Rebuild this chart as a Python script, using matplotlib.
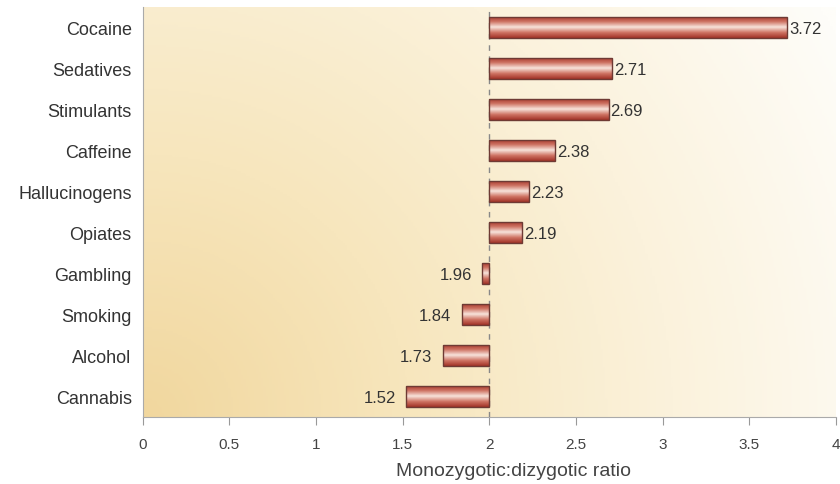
import numpy as np
import matplotlib
matplotlib.use("Agg")
import matplotlib.pyplot as plt
from matplotlib.colors import LinearSegmentedColormap

categories = ['Cocaine', 'Sedatives', 'Stimulants', 'Caffeine', 'Hallucinogens',
              'Opiates', 'Gambling', 'Smoking', 'Alcohol', 'Cannabis']
ratios = [3.72, 2.71, 2.69, 2.38, 2.23, 2.19, 1.96, 1.84, 1.73, 1.52]
baseline = 2.0
xticks = [0, 0.5, 1, 1.5, 2, 2.5, 3, 3.5, 4]
xticklabels = ['0', '0.5', '1', '1.5', '2', '2.5', '3', '3.5', '4']

plt.rcParams['font.family'] = ['Liberation Sans', 'DejaVu Sans']

fig = plt.figure(figsize=(8.4, 4.85), dpi=100)
ax = fig.add_axes([0.170, 0.138, 0.825, 0.846])

n = len(categories)
ypos = np.arange(n)[::-1]
ax.set_xlim(0, 4)
ax.set_ylim(-0.5, n - 0.5)

# background: radial gradient, tan at lower-left fading to white at upper-right
gx, gy = np.meshgrid(np.linspace(0, 1, 300), np.linspace(0, 1, 200))
d = np.sqrt((gx * 1.0) ** 2 + (gy * 0.6) ** 2) / 1.15
d = np.clip(d, 0, 1)
bg_cmap = LinearSegmentedColormap.from_list(
    'bg', ['#f1d79e', '#f7e6bd', '#fbf2dc', '#fefdf9'])
ax.imshow(d, cmap=bg_cmap, extent=[0, 4, -0.5, n - 0.5], origin='lower',
          aspect='auto', zorder=0)

# bar gradient: dark red edges, pale center
bar_cmap = LinearSegmentedColormap.from_list(
    'bar', ['#a23328', '#cf7464', '#f8e4dc', '#cf7464', '#a23328'])
grad = np.linspace(0, 1, 64).reshape(-1, 1)

widths = [r - baseline for r in ratios]
bars = ax.barh(ypos, widths, left=baseline, height=0.52, color='none',
               edgecolor='#6e3a34', linewidth=1.0, zorder=3)
for b in bars:
    x0, y0 = b.get_x(), b.get_y()
    w, h = b.get_width(), b.get_height()
    xa, xb = min(x0, x0 + w), max(x0, x0 + w)
    im = ax.imshow(grad, cmap=bar_cmap, extent=[xa, xb, y0, y0 + h],
                   origin='lower', aspect='auto', zorder=2)
    im.set_clip_path(b)

ax.axvline(baseline, color='#888888', linestyle=(0, (4, 4)), linewidth=1.0,
           zorder=1)

for y, r in zip(ypos, ratios):
    if r >= baseline:
        ax.text(r + 0.01, y - 0.03, f'{r:.2f}', ha='left', va='center',
                fontsize=12, color='#333333', zorder=4)
    else:
        ax.text(r - 0.06, y - 0.03, f'{r:.2f}', ha='right', va='center',
                fontsize=12, color='#333333', zorder=4)

ax.set_yticks(ypos)
ax.set_yticklabels(categories, fontsize=13, color='#333333')
ax.tick_params(axis='y', length=0, pad=8)
ax.set_xticks(xticks)
ax.set_xticklabels(xticklabels, fontsize=11, color='#444444')
ax.tick_params(axis='x', direction='out', length=6, color='#999999', pad=8)
ax.set_xlabel('Monozygotic:dizygotic ratio', fontsize=14, color='#444444',
              labelpad=8)
ax.xaxis.label.set_x(0.535)

for s in ['top', 'right']:
    ax.spines[s].set_visible(False)
ax.spines['left'].set_color('#aaaaaa')
ax.spines['bottom'].set_color('#aaaaaa')

fig.savefig('out.png', dpi=100)
